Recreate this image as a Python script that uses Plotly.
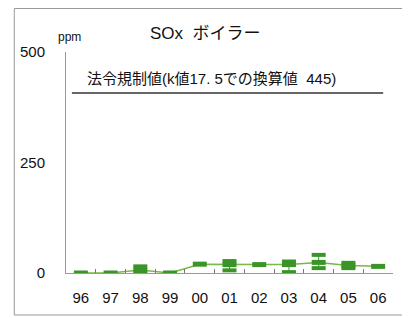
import plotly.graph_objects as go

years = ["96", "97", "98", "99", "00", "01", "02", "03", "04", "05", "06"]
sox_mean = [0, 0, 7, 0, 20, 19, 19, 19, 24, 17, 15]
sox_max = [None, None, 15, None, None, 27, None, 26, 41, 23, None]
sox_min = [None, None, 0, None, None, 6, None, 2, 11, 11, None]
limit_value = 407
limit_label = "法令規制値(k値17. 5での換算値  445)"
y_ticks = [0, 250, 500]

green = "#3a9428"
line_green = "#7ab648"
FONT = "Liberation Sans, Noto Sans CJK JP, Arial"

fig = go.Figure()
# mean line (first so category order follows years)
fig.add_trace(go.Scatter(
    x=years, y=sox_mean, mode="lines",
    line=dict(color=line_green, width=1.5),
    showlegend=False, hoverinfo="skip"))
# vertical connectors between min and max
cx, cy = [], []
for yr, a, b in zip(years, sox_max, sox_min):
    if a is not None:
        cx += [yr, yr, None]
        cy += [a, b, None]
fig.add_trace(go.Scatter(x=cx, y=cy, mode="lines", line=dict(color=green, width=1),
                         showlegend=False, hoverinfo="skip"))
# range markers (max / min)
for vals in (sox_max, sox_min):
    fig.add_trace(go.Scatter(
        x=years, y=vals, mode="markers",
        marker=dict(symbol="line-ew", size=10, line=dict(width=4, color=green)),
        showlegend=False, hoverinfo="skip"))
# mean markers
fig.add_trace(go.Scatter(
    x=years, y=sox_mean, mode="markers",
    marker=dict(symbol="line-ew", size=10, line=dict(width=5, color=green)),
    showlegend=False))

fig.add_shape(type="line", xref="x domain", yref="y", x0=0.018, x1=0.97,
              y0=limit_value, y1=limit_value, line=dict(color="#333", width=1.5))
fig.add_annotation(xref="x domain", yref="y", x=0.057, y=limit_value, yshift=15,
                   text=limit_label, showarrow=False, xanchor="left", yanchor="middle",
                   font=dict(size=15, color="#111", family=FONT))
fig.add_annotation(xref="paper", yref="paper", x=0.428, y=1, yshift=19,
                   text="SOx  ボイラー", showarrow=False, xanchor="center", yanchor="middle",
                   font=dict(size=17, color="#111", family=FONT))
fig.add_annotation(xref="paper", yref="paper", x=0.01, y=1, yshift=15,
                   text="ppm", showarrow=False, xanchor="center", yanchor="middle",
                   font=dict(size=12, color="#111", family=FONT))
# outer frame (in pixels relative to plot area: l=53, t=44, plot 332x221)
W, H, L, T = 332, 221, 53, 44
fig.add_shape(type="rect", xref="paper", yref="paper",
              x0=(0.5 - L) / W, x1=(400 - L) / W,
              y0=1 - (307 - T) / H, y1=1 - (0.5 - T) / H,
              line=dict(color="#999", width=1))

fig.update_layout(
    width=402, height=310,
    margin=dict(l=L, r=402 - L - W, t=T, b=310 - T - H),
    paper_bgcolor="white", plot_bgcolor="white",
    font=dict(family=FONT, color="#111"),
    xaxis=dict(type="category", categoryorder="array", categoryarray=years,
               tickson="boundaries", ticks="inside", ticklen=4,
               tickcolor="#777", showline=True, linecolor="#999", linewidth=1,
               showgrid=False, tickfont=dict(size=15, family=FONT, color="#111"),
               ticklabelstandoff=11, range=[-0.5, 10.5]),
    yaxis=dict(range=[0, 500], tickvals=y_ticks, ticktext=[str(v) for v in y_ticks],
               showline=True, linecolor="#999", linewidth=1, showgrid=False, zeroline=False,
               ticks="", tickfont=dict(size=15, family=FONT, color="#111"),
               ticklabelstandoff=17),
)

fig.write_html("out.html")
